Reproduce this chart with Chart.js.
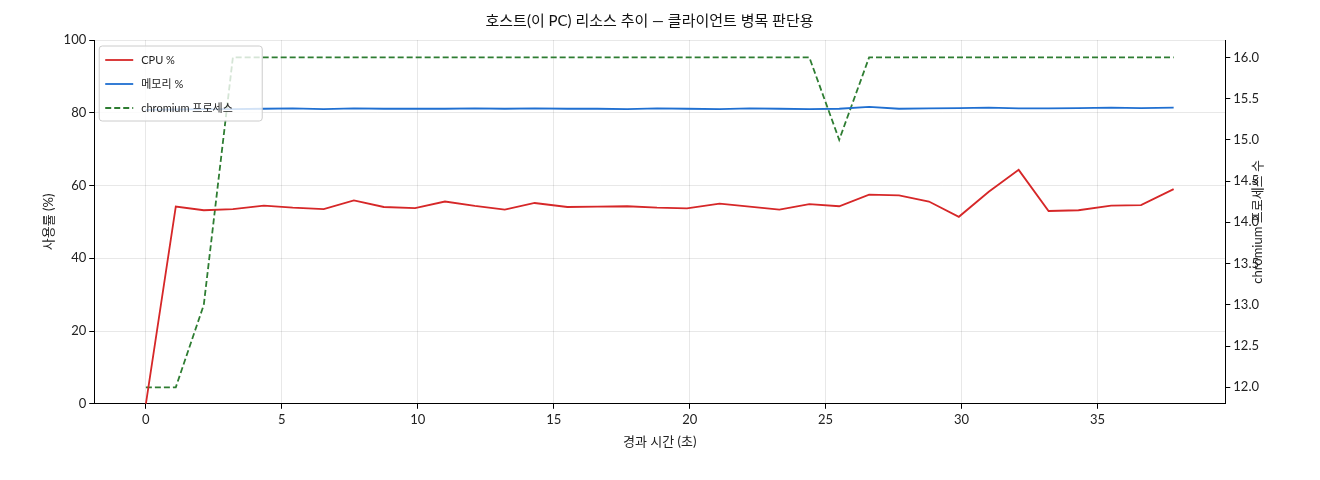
<!DOCTYPE html>
<html><head><meta charset="utf-8">
<script src="https://cdn.jsdelivr.net/npm/chart.js@4"></script>
<style>body{margin:0;background:#fff}#wrap{width:1320px;height:480px}</style>
</head><body><div id="wrap"><canvas id="c"></canvas></div>
<script>
const elapsed = [0,1.1,2.13,3.2,4.34,5.4,6.54,7.65,8.75,9.9,11.0,12.1,13.2,14.3,15.5,16.6,17.7,18.8,19.9,21.1,22.2,23.3,24.4,25.5,26.6,27.7,28.8,29.9,31.0,32.1,33.2,34.3,35.5,36.6,37.8];
const cpu = [0,54.2,53.2,53.5,54.5,53.9,53.5,55.9,54.1,53.8,55.6,54.4,53.4,55.2,54.1,54.2,54.3,53.9,53.7,55.0,54.2,53.4,54.9,54.3,57.5,57.3,55.6,51.4,58.3,64.3,53.0,53.2,54.5,54.6,59.0];
const mem = [80.8,80.9,81.0,81.0,81.1,81.2,81.0,81.2,81.1,81.1,81.1,81.2,81.1,81.2,81.1,81.1,81.0,81.2,81.1,81.0,81.2,81.1,81.0,81.1,81.6,81.1,81.2,81.3,81.4,81.2,81.2,81.3,81.4,81.3,81.4];
const procs = [12,12,13,16,16,16,16,16,16,16,16,16,16,16,16,16,16,16,16,16,16,16,16,15,16,16,16,16,16,16,16,16,16,16,16];
const pts = ys => elapsed.map((x, i) => ({x, y: ys[i]}));
const font = 'Lato, "Noto Sans CJK KR", sans-serif';
Chart.defaults.font.family = font;
Chart.defaults.color = '#222';

const legendBox = {
  id: 'legendBox',
  afterDraw(chart) {
    const ctx = chart.ctx, a = chart.chartArea;
    const x = a.left + 5, y = a.top + 6;
    ctx.save();
    ctx.fillStyle = 'rgba(255,255,255,0.8)';
    ctx.strokeStyle = '#ccc';
    ctx.lineWidth = 1;
    ctx.beginPath(); ctx.roundRect(x, y, 163, 75, 3); ctx.fill(); ctx.stroke();
    const items = [['CPU %', '#d62728', []], ['메모리 %', '#1f6fd1', []], ['chromium 프로세스', '#2e7d32', [6, 3]]];
    ctx.font = '11px ' + font; ctx.textBaseline = 'middle';
    items.forEach((it, i) => {
      const ly = y + 14 + i * 24;
      ctx.strokeStyle = it[1]; ctx.lineWidth = 1.8; ctx.setLineDash(it[2]);
      ctx.beginPath(); ctx.moveTo(x + 6, ly); ctx.lineTo(x + 34, ly); ctx.stroke();
      ctx.setLineDash([]); ctx.fillStyle = '#222'; ctx.fillText(it[0], x + 42, ly);
    });
    // right axis title, reading bottom to top
    const a2 = chart.scales.y2;
    ctx.translate(a2.right + 2, (a.top + a.bottom) / 2);
    ctx.rotate(-Math.PI / 2);
    ctx.font = '13px ' + font; ctx.textAlign = 'center'; ctx.textBaseline = 'bottom';
    ctx.fillText('chromium 프로세스 수', 0, 0);
    ctx.restore();
  }
};

new Chart(document.getElementById('c'), {
  type: 'line',
  data: { datasets: [
    { label: 'CPU %', data: pts(cpu), borderColor: '#d62728', borderWidth: 1.8, pointRadius: 0, yAxisID: 'y' },
    { label: '메모리 %', data: pts(mem), borderColor: '#1f6fd1', borderWidth: 1.8, pointRadius: 0, yAxisID: 'y' },
    { label: 'chromium 프로세스', data: pts(procs), borderColor: '#2e7d32', borderWidth: 1.8, borderDash: [6, 3], pointRadius: 0, yAxisID: 'y2' }
  ]},
  options: {
    responsive: true, maintainAspectRatio: false, animation: false,
    layout: { padding: { left: 37, right: 58, top: 12, bottom: 26 } },
    plugins: {
      legend: { display: false },
      title: { display: true, text: '호스트(이 PC) 리소스 추이 — 클라이언트 병목 판단용', font: { size: 15, weight: 'normal' }, color: '#111', padding: { top: 0, bottom: 10 } }
    },
    scales: {
      x: { type: 'linear', min: -1.9, max: 39.7, border: { color: '#000' },
        afterBuildTicks: s => { s.ticks = [0,5,10,15,20,25,30,35].map(v => ({value: v})); },
        ticks: { font: { size: 13 } }, grid: { color: 'rgba(0,0,0,0.09)', tickColor: '#000', tickLength: 5 },
        title: { display: true, text: '경과 시간 (초)', font: { size: 13 } } },
      y: { position: 'left', min: 0, max: 100, border: { color: '#000' },
        ticks: { stepSize: 20, font: { size: 13 } }, grid: { color: 'rgba(0,0,0,0.09)', tickColor: '#000', tickLength: 5 },
        title: { display: true, text: '사용률 (%)', font: { size: 13 } } },
      y2: { position: 'right', min: 11.8, max: 16.21, border: { color: '#000' },
        afterBuildTicks: s => { s.ticks = [12,12.5,13,13.5,14,14.5,15,15.5,16].map(v => ({value: v})); },
        ticks: { font: { size: 13 }, callback: v => v.toFixed(1) }, grid: { drawOnChartArea: false, tickColor: '#000', tickLength: 5 } }
    }
  },
  plugins: [legendBox]
});
</script></body></html>
